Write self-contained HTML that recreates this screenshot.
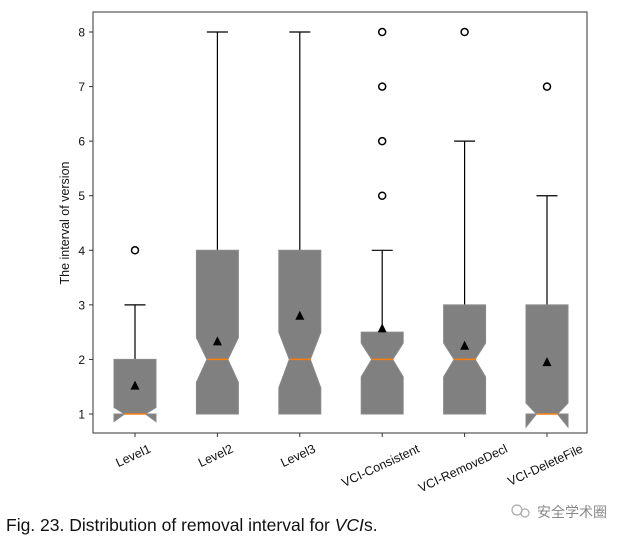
<!DOCTYPE html>
<html><head><meta charset="utf-8"><style>
body{margin:0;background:#fff;width:633px;height:540px;overflow:hidden}
svg{display:block}
</style></head><body>
<svg id="chart" width="633" height="540" xmlns="http://www.w3.org/2000/svg" font-family="Liberation Sans, DejaVu Sans, sans-serif">
<rect x="93" y="12" width="494" height="421" fill="#fff" stroke="#333" stroke-width="1"/>
<g id="marks"></g>
<text transform="translate(69,223) rotate(-90)" text-anchor="middle" font-size="12.5" fill="#111">The interval of version</text>
<text x="6" y="531" font-size="17.5" fill="#111">Fig. 23. Distribution of removal interval for <tspan font-style="italic">VCI</tspan>s.</text>
<g fill="#999">
<circle cx="517" cy="510" r="5" fill="none" stroke="#aaa" stroke-width="1.2"/>
<circle cx="525" cy="513" r="4" fill="none" stroke="#aaa" stroke-width="1.2"/>
<text x="537" y="517" font-size="14" font-family="Liberation Sans, Noto Sans CJK SC, sans-serif" fill="#888">安全学术圈</text>
</g>
</svg>
<script>
const categories=["Level1","Level2","Level3","VCI-Consistent","VCI-RemoveDecl","VCI-DeleteFile"];
const q1s=[1,1,1,1,1,1];
const q3s=[2,4,4,2.5,3,3];
const medians=[1,2,2,2,2,1];
const notchLo=[0.86,1.58,1.48,1.68,1.68,0.76];
const notchHi=[1.12,2.4,2.5,2.3,2.3,1.2];
const whiskerHi=[3,8,8,4,6,5];
const whiskerLo=[1,1,1,1,1,1];
const means=[1.52,2.33,2.8,2.57,2.25,1.95];
const fliers=[[4],[],[],[5,6,7,8],[8],[7]];
const yTicks=[1,2,3,4,5,6,7,8];

const NS="http://www.w3.org/2000/svg";
const g=document.getElementById('marks');
const y=v=>414-(v-1)*54.57;
const x=i=>135+i*82.4;
function el(t,a,p){const e=document.createElementNS(NS,t);for(const k in a)e.setAttribute(k,a[k]);(p||g).appendChild(e);return e;}

yTicks.forEach(v=>{
  const t=el('line',{x1:89,x2:93,y1:y(v),y2:y(v),stroke:'#333'});
  
  
  const l=el('text',{x:85,y:y(v)+4.5,'text-anchor':'end','font-size':12,fill:'#111'});
  l.textContent=v;
  
  
});

categories.forEach((c,i)=>{
  const cx=x(i),hw=21,nw=10.5;
  const p=[[cx-hw,y(q1s[i])],[cx-hw,y(notchLo[i])],[cx-nw,y(medians[i])],[cx-hw,y(notchHi[i])],[cx-hw,y(q3s[i])],
    [cx+hw,y(q3s[i])],[cx+hw,y(notchHi[i])],[cx+nw,y(medians[i])],[cx+hw,y(notchLo[i])],[cx+hw,y(q1s[i])]];
  const w=el('line',{x1:cx,x2:cx,y1:y(q3s[i]),y2:y(whiskerHi[i]),stroke:'#000','stroke-width':1.2});
  
  
  const cap=el('line',{x1:cx-10.5,x2:cx+10.5,y1:y(whiskerHi[i]),y2:y(whiskerHi[i]),stroke:'#000','stroke-width':1.2});
  
  
  const b=el('polygon',{points:p.map(q=>q.join(',')).join(' '),fill:'#808080',stroke:'#8a8a8a','stroke-width':1});
  
  
  const m=el('line',{x1:cx-nw,x2:cx+nw,y1:y(medians[i]),y2:y(medians[i]),stroke:'#ff7f0e','stroke-width':1.5});
  
  
  const my=y(means[i]);
  const tr=el('polygon',{points:`${cx},${my-5} ${cx-4.5},${my+4} ${cx+4.5},${my+4}`,fill:'#000'});
  
  
  fliers[i].forEach(f=>{
    const o=el('circle',{cx:cx,cy:y(f),r:3.5,fill:'none',stroke:'#000','stroke-width':1.5});
    
    
  });
  const t=el('line',{x1:cx,x2:cx,y1:433,y2:437,stroke:'#333'});
  
  
  const l=el('text',{'text-anchor':'middle','font-size':12.5,fill:'#111'});
  l.textContent=c;
  
  
  const wd=l.getComputedTextLength();
  const s=Math.sin(25*Math.PI/180),co=Math.cos(25*Math.PI/180);
  const bh=wd*s+12.5*co;
  l.setAttribute('transform',`translate(${cx},${442+bh/2+4}) rotate(-25)`);
});
</script>
</body></html>
